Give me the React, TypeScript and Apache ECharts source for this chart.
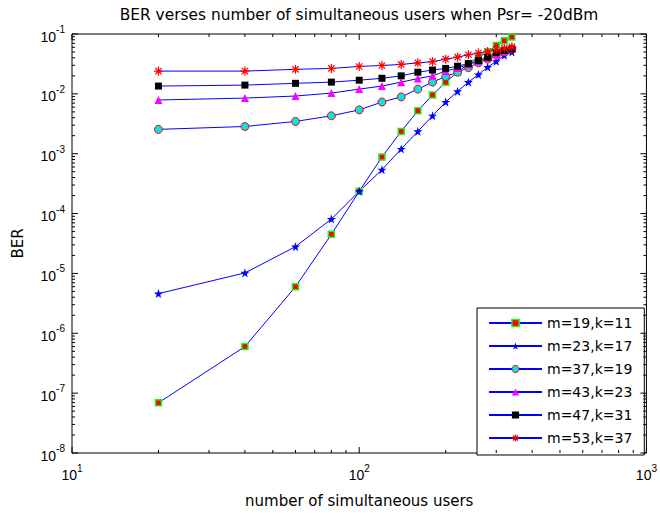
import React, { useEffect, useRef } from "react";
import * as echarts from "echarts";

// ---------------- data ----------------
const users = [20, 40, 60, 80, 100, 120, 140, 160, 180, 200, 220, 240, 260, 280, 300, 320, 340];

const berM19K11 = [6.9e-8, 6.0e-7, 6.0e-6, 4.5e-5, 2.35e-4, 8.8e-4, 2.36e-3, 5.2e-3, 9.6e-3, 1.57e-2, 2.3e-2, 3.2e-2, 4.1e-2, 5.0e-2, 6.4e-2, 7.7e-2, 8.9e-2];
const berM23K17 = [4.6e-6, 1.02e-5, 2.8e-5, 8.1e-5, 2.35e-4, 5.4e-4, 1.2e-3, 2.36e-3, 4.3e-3, 7.3e-3, 1.1e-2, 1.57e-2, 2.1e-2, 2.8e-2, 3.5e-2, 4.4e-2, 5.0e-2];
const berM37K19 = [2.55e-3, 2.85e-3, 3.46e-3, 4.3e-3, 5.4e-3, 7.3e-3, 8.9e-3, 1.2e-2, 1.57e-2, 1.95e-2, 2.3e-2, 2.75e-2, 3.3e-2, 3.8e-2, 4.4e-2, 5.0e-2, 5.6e-2];
const berM43K23 = [7.9e-3, 8.5e-3, 9.2e-3, 1.03e-2, 1.2e-2, 1.35e-2, 1.57e-2, 1.8e-2, 2.0e-2, 2.4e-2, 2.7e-2, 3.1e-2, 3.5e-2, 4.0e-2, 4.6e-2, 5.2e-2, 5.8e-2];
const berM47K31 = [1.35e-2, 1.4e-2, 1.5e-2, 1.57e-2, 1.69e-2, 1.82e-2, 2.0e-2, 2.3e-2, 2.5e-2, 2.66e-2, 2.9e-2, 3.2e-2, 3.6e-2, 4.1e-2, 4.9e-2, 5.3e-2, 5.6e-2];
const berM53K37 = [2.4e-2, 2.4e-2, 2.57e-2, 2.66e-2, 2.87e-2, 2.98e-2, 3.1e-2, 3.3e-2, 3.45e-2, 3.8e-2, 4.1e-2, 4.5e-2, 4.8e-2, 5.1e-2, 5.5e-2, 5.8e-2, 6.1e-2];

const seriesNames = ["m=19,k=11", "m=23,k=17", "m=37,k=19", "m=43,k=23", "m=47,k=31", "m=53,k=37"];

const titleText = "BER verses number of simultaneous users when Psr= -20dBm";
const xAxisName = "number of simultaneous users";
const yAxisName = "BER";

const xMin = 10;
const xMax = 1000;
const yMin = 1e-8;
const yMax = 1e-1;

// tick positions (mantissa 1..9 in each decade)
const mantissas = [1, 2, 3, 4, 5, 6, 7, 8, 9];
const xDecades = [1, 2];
const yDecades = [-8, -7, -6, -5, -4, -3, -2];

// ---------------- styling helpers ----------------
const STAR = "path://M12,0 L14.9,8.1 L23.4,8.1 L16.5,13.2 L19.1,21.3 L12,16.3 L4.9,21.3 L7.5,13.2 L0.6,8.1 L9.1,8.1 Z";
const ASTERISK = "path://M5,0 L5,10 M0,5 L10,5 M1.5,1.5 L8.5,8.5 M8.5,1.5 L1.5,8.5";

const isPow10 = (v: number) => Math.abs(Math.log10(v) - Math.round(Math.log10(v))) < 1e-9;

const labelFormatter = (v: number) => `{b|10}{e|${Math.round(Math.log10(v))}}`;
const TICK_FONT = "Liberation Sans, Arial, sans-serif";
const TEXT_FONT = "DejaVu Sans, sans-serif";
const labelRich = {
  b: { fontSize: 14, fontFamily: TICK_FONT, color: "#000", lineHeight: 19, verticalAlign: "bottom" },
  e: { fontSize: 10, fontFamily: TICK_FONT, color: "#000", lineHeight: 10, verticalAlign: "top" },
};

const seriesStyles = [
  { symbol: "rect", size: 6, style: { color: "#ff0000", borderColor: "#22ee22", borderWidth: 1.5 } },
  { symbol: STAR, size: 9, style: { color: "#0000ff" } },
  { symbol: "circle", size: 8, style: { color: "#00e5e5", borderColor: "#ff0000", borderWidth: 1 } },
  { symbol: "triangle", size: 8, style: { color: "#ff00ff" } },
  { symbol: "rect", size: 7, style: { color: "#000000" } },
  { symbol: ASTERISK, size: 9, style: { color: "#ff0000", borderColor: "#ff0000", borderWidth: 1.2 } },
];

export default function App() {
  const ref = useRef<HTMLDivElement>(null);

  useEffect(() => {
    if (!ref.current) return;
    const chart = echarts.init(ref.current, undefined, { renderer: "svg" });

    // tick list: [x, y, kind] kind 0 = x-axis tick, 1 = y-axis tick
    const tickData: number[][] = [];
    xDecades.forEach((d) =>
      mantissas.forEach((m) => tickData.push([m * Math.pow(10, d), yMin, 0]))
    );
    tickData.push([xMax, yMin, 0]);
    yDecades.forEach((d) =>
      mantissas.forEach((m) => tickData.push([xMin, m * Math.pow(10, d), 1]))
    );
    tickData.push([xMin, yMax, 1]);

    const allData = [berM19K11, berM23K17, berM37K19, berM43K23, berM47K31, berM53K37];
    const blue = "#0000ff";
    const lineSeries = seriesNames.map((name, k) => ({
      name,
      type: "line",
      data: users.map((u, i) => [u, allData[k][i]]),
      symbol: seriesStyles[k].symbol,
      symbolSize: seriesStyles[k].size,
      showAllSymbol: true,
      lineStyle: { color: blue, width: 1 },
      itemStyle: seriesStyles[k].style,
      emphasis: { disabled: true },
      z: 3,
    }));

    const option: any = {
      animation: false,
      backgroundColor: "#ffffff",
      graphic: [
        {
          type: "text",
          x: 359,
          y: 15,
          style: {
            text: titleText,
            fontSize: 15.4,
            fontFamily: TEXT_FONT,
            fill: "#000",
            align: "center",
            verticalAlign: "middle",
          },
        },
      ],
      grid: {
        left: 72,
        top: 34,
        right: 9,
        bottom: 53,
        show: true,
        borderColor: "#000",
        borderWidth: 1,
        backgroundColor: "#fff",
      },
      legend: {
        data: seriesNames.map((name, k) => ({ name, itemStyle: seriesStyles[k].style })),
        orient: "vertical",
        left: 477,
        top: 308,
        itemWidth: 53,
        itemHeight: 9,
        itemGap: 9,
        padding: [8, 12, 10, 11],
        borderColor: "#000",
        borderWidth: 1,
        backgroundColor: "#fff",
        selectedMode: false,
        textStyle: { fontSize: 14, fontFamily: TEXT_FONT, color: "#000" },
      },
      xAxis: {
        type: "log",
        logBase: 10,
        min: xMin,
        max: xMax,
        splitNumber: 2,
        name: xAxisName,
        nameLocation: "middle",
        nameGap: 40,
        nameTextStyle: { fontSize: 15, fontFamily: TEXT_FONT, color: "#000" },
        axisLine: { show: false },
        axisTick: { show: false },
        splitLine: { show: false },
        minorTick: { show: false },
        axisLabel: { formatter: labelFormatter, rich: labelRich, margin: 10, color: "#000" },
      },
      yAxis: {
        type: "log",
        logBase: 10,
        min: yMin,
        max: yMax,
        splitNumber: 7,
        name: yAxisName,
        nameLocation: "middle",
        nameGap: 47,
        nameTextStyle: { fontSize: 15, fontFamily: TEXT_FONT, color: "#000" },
        axisLine: { show: false },
        axisTick: { show: false },
        splitLine: { show: false },
        minorTick: { show: false },
        axisLabel: {
          formatter: labelFormatter,
          rich: labelRich,
          margin: 7,
          color: "#000",
        },
      },
      series: [
        {
          name: "ticks",
          type: "custom",
          coordinateSystem: "cartesian2d",
          silent: true,
          clip: false,
          z: 5,
          dimensions: ["x", "y", "kind"],
          encode: { x: 0, y: 1 },
          data: tickData,
          renderItem: (params: any, api: any) => {
            const kind = Number(api.value(2));
            const xv = Number(api.value(0));
            const yv = Number(api.value(1));
            if (kind === 0) {
              const len = isPow10(xv) ? 6 : 3;
              const b = api.coord([xv, yMin]);
              const t = api.coord([xv, yMax]);
              return {
                type: "group",
                children: [
                  { type: "line", shape: { x1: b[0], y1: b[1], x2: b[0], y2: b[1] - len }, style: { stroke: "#000", lineWidth: 1 } },
                  { type: "line", shape: { x1: t[0], y1: t[1], x2: t[0], y2: t[1] + len }, style: { stroke: "#000", lineWidth: 1 } },
                ],
              };
            }
            const len = isPow10(yv) ? 6 : 3;
            const l = api.coord([xMin, yv]);
            const r = api.coord([xMax, yv]);
            return {
              type: "group",
              children: [
                { type: "line", shape: { x1: l[0], y1: l[1], x2: l[0] + len, y2: l[1] }, style: { stroke: "#000", lineWidth: 1 } },
                { type: "line", shape: { x1: r[0], y1: r[1], x2: r[0] - len, y2: r[1] }, style: { stroke: "#000", lineWidth: 1 } },
              ],
            };
          },
        },
        ...lineSeries,
      ],
    };

    chart.setOption(option);
    return () => chart.dispose();
  }, []);

  return (
    <div
      ref={ref}
      style={{ position: "fixed", left: 0, top: 0, width: 660, height: 513, background: "#fff" }}
    />
  );
}
